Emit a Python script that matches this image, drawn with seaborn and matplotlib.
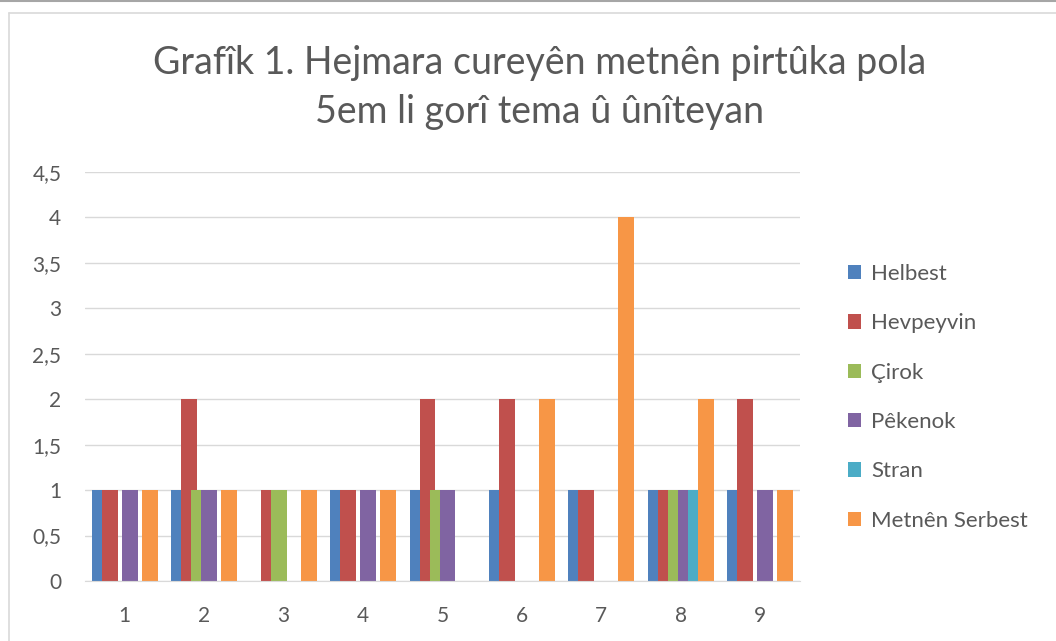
import numpy as np
import pandas as pd
import matplotlib
matplotlib.use("Agg")
import matplotlib.pyplot as plt
import seaborn as sns
from matplotlib.lines import Line2D
from matplotlib.ticker import FixedLocator, FuncFormatter

# data
groups = ["1", "2", "3", "4", "5", "6", "7", "8", "9"]
series = ["Helbest", "Hevpeyvin", "Çirok", "Pêkenok", "Stran", "Metnên Serbest"]
helbest = [1, 1, 0, 1, 1, 1, 1, 1, 1]
hevpeyvin = [1, 2, 1, 1, 2, 2, 1, 1, 2]
cirok = [0, 1, 1, 0, 1, 0, 0, 1, 0]
pekenok = [1, 1, 0, 1, 1, 0, 0, 1, 1]
stran = [0, 0, 0, 0, 0, 0, 0, 1, 0]
serbest = [1, 1, 1, 1, 0, 2, 4, 2, 1]
colors = ["#4F81BD", "#C0504D", "#9BBB59", "#8064A2", "#4BACC6", "#F79646"]

title1 = "Grafîk 1. Hejmara cureyên metnên pirtûka pola"
title2 = "5em li gorî tema û ûnîteyan"

values = [helbest, hevpeyvin, cirok, pekenok, stran, serbest]
rows = []
for s, vals in zip(series, values):
    for g, v in zip(groups, vals):
        rows.append({"group": g, "series": s, "value": v})
df = pd.DataFrame(rows)

sns.set_style("white")
plt.rcParams["font.family"] = ["Lato", "DejaVu Sans"]
text_col = "#595959"

fig = plt.figure(figsize=(10.56, 6.41), dpi=100)
ax = fig.add_axes([85 / 1056, 1 - 581 / 641, 715 / 1056, 409 / 641])

sns.barplot(data=df, x="group", y="value", hue="series", order=groups,
            hue_order=series, palette=colors, width=0.756, saturation=1,
            linewidth=0, errorbar=None, ax=ax)

# Excel-style overlapping columns: widen each bar around its centre
for p in ax.patches:
    c = p.get_x() + p.get_width() / 2
    p.set_width(0.2)
    p.set_x(c - 0.1)

ax.set_xlim(-0.5, 8.5)
ax.set_ylim(0, 4.5)
ax.yaxis.set_major_locator(FixedLocator(np.arange(0, 4.51, 0.5)))
ax.yaxis.set_major_formatter(FuncFormatter(lambda v, _: f"{v:g}".replace(".", ",")))
ax.grid(axis="y", color="#D9D9D9", linewidth=1)
ax.set_axisbelow(True)
for sp in ["top", "right", "left"]:
    ax.spines[sp].set_visible(False)
ax.spines["bottom"].set_color("#D9D9D9")
ax.tick_params(length=0, labelsize=15, colors=text_col)
ax.tick_params(axis="x", pad=18)
ax.tick_params(axis="y", pad=17)
ax.set_xlabel("")
ax.set_ylabel("")

handles, labels = ax.get_legend_handles_labels()
ax.get_legend().remove()
fig.legend(handles, labels, loc="upper left", bbox_to_anchor=(828 / 1056, 1 - 244 / 641),
           frameon=False, fontsize=16, labelcolor=text_col, handlelength=0.6,
           handleheight=0.6, handletextpad=0.45, labelspacing=1.32)

fig.text(540 / 1056, 1 - 63 / 641, title1, ha="center", va="center",
         fontsize=27, color=text_col)
fig.text(540 / 1056, 1 - 112 / 641, title2, ha="center", va="center",
         fontsize=27, color=text_col)

# chart frame
fig.add_artist(Line2D([0, 1], [1 - 1 / 641, 1 - 1 / 641], color="#A6A6A6", lw=1.5))
fig.add_artist(Line2D([9 / 1056, 1], [1 - 13 / 641, 1 - 13 / 641], color="#D9D9D9", lw=1.2))
fig.add_artist(Line2D([9 / 1056, 9 / 1056], [0, 1 - 13 / 641], color="#D9D9D9", lw=1.2))

fig.savefig("out.png", dpi=100)
